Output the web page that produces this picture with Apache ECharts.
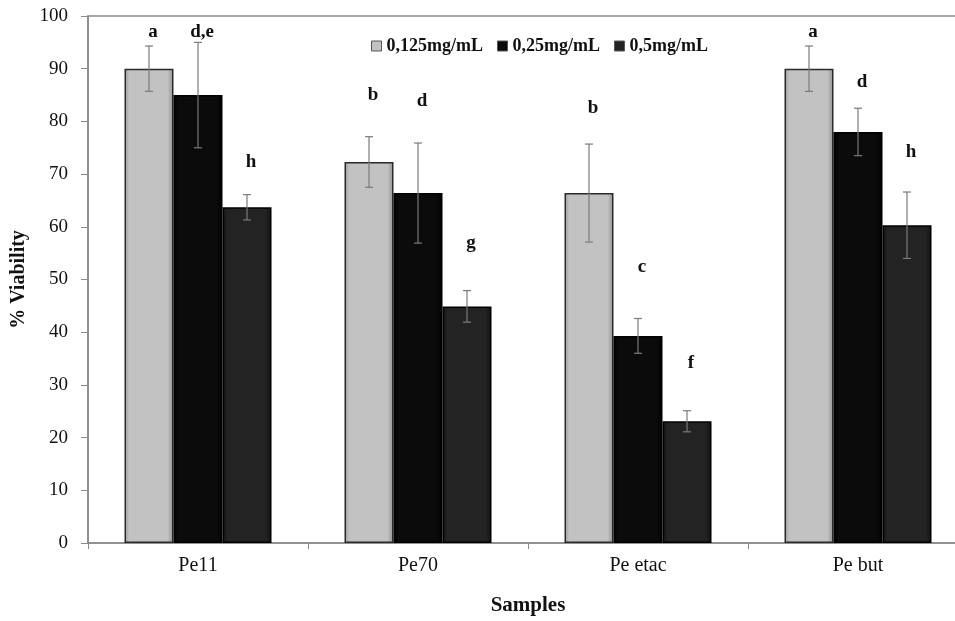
<!DOCTYPE html>
<html>
<head>
<meta charset="utf-8">
<script src="https://cdn.jsdelivr.net/npm/echarts@6/dist/echarts.min.js"></script>
<style>html,body{margin:0;padding:0;background:#fff;overflow:hidden;width:955px;height:621px}#chart{width:980px;height:621px}</style>
</head>
<body>
<div id="chart"></div>
<script>
const categories = ['Pe11', 'Pe70', 'Pe etac', 'Pe but'];
const seriesNames = ['0,125mg/mL', '0,25mg/mL', '0,5mg/mL'];
const v125 = [90.0, 72.3, 66.4, 90.0];
const v25 = [85.0, 66.4, 39.3, 78.0];
const v5 = [63.7, 44.9, 23.1, 60.3];
const e125 = [4.3, 4.8, 9.3, 4.3];
const e25 = [10.0, 9.5, 3.3, 4.5];
const e5 = [2.4, 3.0, 2.0, 6.3];
const letters125 = ['a', 'b', 'b', 'a'];
const letters25 = ['d,e', 'd', 'c', 'd'];
const letters5 = ['h', 'g', 'f', 'h'];
const letterY125 = [97.0, 84.9, 82.5, 97.0];
const letterY25 = [97.0, 83.8, 52.3, 87.5];
const letterY5 = [72.3, 57.0, 34.1, 74.1];
const yTicks = [0, 10, 20, 30, 40, 50, 60, 70, 80, 90, 100];

const values = [v125, v25, v5];
const errors = [e125, e25, e5];
const letters = [letters125, letters25, letters5];
const letterYs = [letterY125, letterY25, letterY5];

const BAR_W = 49;
const SERIF = '"Liberation Serif", "Times New Roman", serif';

const fills = [
  new echarts.graphic.LinearGradient(0, 0, 1, 0, [
    {offset: 0, color: '#9a9a9a'}, {offset: 0.1, color: '#c2c2c2'},
    {offset: 0.88, color: '#c2c2c2'}, {offset: 1, color: '#8e8e8e'}]),
  new echarts.graphic.LinearGradient(0, 0, 1, 0, [
    {offset: 0, color: '#000'}, {offset: 0.1, color: '#0b0b0b'},
    {offset: 0.88, color: '#0b0b0b'}, {offset: 1, color: '#000'}]),
  new echarts.graphic.LinearGradient(0, 0, 1, 0, [
    {offset: 0, color: '#111'}, {offset: 0.1, color: '#232323'},
    {offset: 0.88, color: '#232323'}, {offset: 1, color: '#111'}])
];
const legendColors = ['#c2c2c2', '#0b0b0b', '#232323'];
const borders = ['#2a2a2a', '#000', '#000'];

const barSeries = seriesNames.map((name, s) => ({
  name: name,
  type: 'bar',
  barWidth: BAR_W,
  barGap: '0%',
  data: values[s],
  itemStyle: {color: fills[s], borderColor: borders[s], borderWidth: 1.5},
  emphasis: {disabled: true},
  z: 2
}));

const errData = [];
const letterData = [];
for (let s = 0; s < 3; s++) {
  for (let i = 0; i < categories.length; i++) {
    errData.push([i, values[s][i], errors[s][i], s]);
    letterData.push([i, letterYs[s][i], s, letters[s][i]]);
  }
}

const errSeries = {
  type: 'custom',
  name: 'err',
  z: 5,
  data: errData,
  encode: {x: 0, y: 1},
  renderItem: function (params, api) {
    const i = api.value(0), v = api.value(1), e = api.value(2), s = api.value(3);
    const off = (s - 1) * BAR_W;
    const top = api.coord([i, v + e]);
    const bot = api.coord([i, v - e]);
    const x = top[0] + off;
    const cap = 4;
    const st = {stroke: '#7a7a7a', lineWidth: 1.2};
    return {
      type: 'group',
      children: [
        {type: 'line', shape: {x1: x, y1: top[1], x2: x, y2: bot[1]}, style: st},
        {type: 'line', shape: {x1: x - cap, y1: top[1], x2: x + cap, y2: top[1]}, style: st},
        {type: 'line', shape: {x1: x - cap, y1: bot[1], x2: x + cap, y2: bot[1]}, style: st}
      ]
    };
  }
};

const letterSeries = {
  type: 'custom',
  name: 'letters',
  z: 6,
  data: letterData,
  encode: {x: 0, y: 1},
  renderItem: function (params, api) {
    const i = api.value(0), y = api.value(1), s = api.value(2);
    const txt = letterData[params.dataIndex][3];
    const p = api.coord([i, y]);
    return {
      type: 'text',
      x: p[0] + (s - 1) * BAR_W + 4,
      y: p[1],
      style: {text: txt, font: 'bold 19px ' + SERIF, fill: '#111', align: 'center', verticalAlign: 'middle'}
    };
  }
};

const chart = echarts.init(document.getElementById('chart'), null, {renderer: 'canvas'});
chart.setOption({
  animation: false,
  backgroundColor: '#fff',
  color: legendColors,
  grid: {left: 88, top: 16, right: 12, bottom: 68, show: true, borderColor: '#8a8a8a', borderWidth: 1.5, backgroundColor: 'transparent'},
  legend: {
    data: seriesNames.map((n, s) => ({name: n, itemStyle: {color: legendColors[s], borderColor: '#555', borderWidth: 1}})),
    left: 366, top: 32,
    icon: 'rect', itemWidth: 10, itemHeight: 10, itemGap: 14,
    textStyle: {fontFamily: SERIF, fontWeight: 'bold', fontSize: 18, color: '#111'}
  },
  xAxis: {
    type: 'category',
    data: categories,
    name: 'Samples',
    nameLocation: 'middle',
    nameGap: 52,
    nameTextStyle: {fontFamily: SERIF, fontWeight: 'bold', fontSize: 21, color: '#111'},
    axisLine: {lineStyle: {color: '#8a8a8a', width: 1.5}},
    axisTick: {show: true, length: 6, lineStyle: {color: '#8a8a8a'}},
    axisLabel: {fontFamily: SERIF, fontSize: 20, color: '#111', margin: 13}
  },
  yAxis: {
    type: 'value',
    min: yTicks[0], max: yTicks[yTicks.length - 1], interval: 10,
    name: '% Viability',
    nameLocation: 'middle',
    nameGap: 58,
    nameTextStyle: {fontFamily: SERIF, fontWeight: 'bold', fontSize: 20, color: '#111'},
    axisLine: {show: true, lineStyle: {color: '#8a8a8a', width: 1.5}},
    axisTick: {show: true, length: 7, lineStyle: {color: '#8a8a8a'}},
    splitLine: {show: false},
    axisLabel: {fontFamily: SERIF, fontSize: 19, color: '#111', margin: 20}
  },
  series: barSeries.concat([errSeries, letterSeries])
});
</script>
</body>
</html>
